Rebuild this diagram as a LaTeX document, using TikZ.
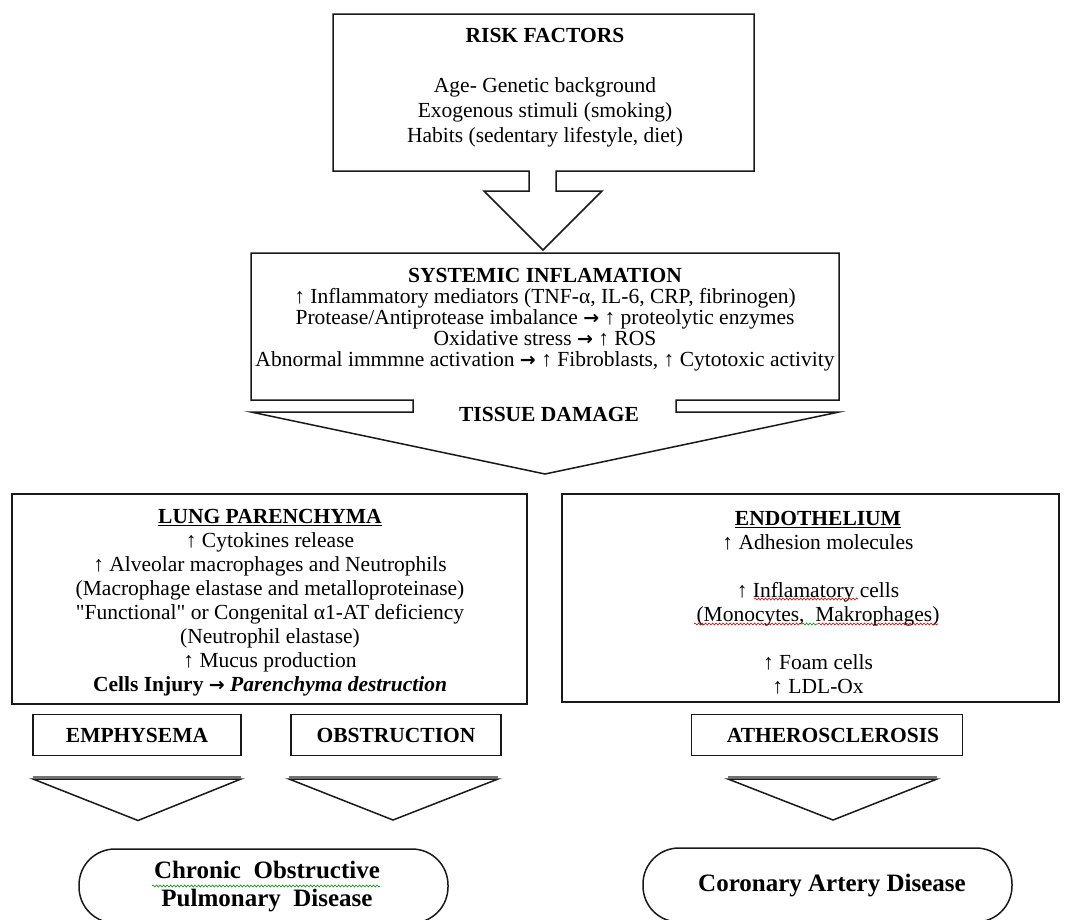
\documentclass[tikz,border=0pt]{standalone}
\usepackage{fontspec}
\setmainfont{Liberation Serif}
\newfontfamily\plainq{Liberation Serif}[Ligatures=TeXOff]
\newfontfamily\arrfont{DejaVu Sans}
\newcommand{\rarr}{{\arrfont\bfseries\fontsize{19}{19}\selectfont →}}
\usetikzlibrary{decorations.pathmorphing}
\begin{document}
\begin{tikzpicture}[x=1pt,y=-1pt,
  outl/.style={draw=black!90, line width=1.5pt, line join=miter},
  band/.style={draw=black!55, line width=2pt},
  body/.style={font=\fontsize{21.5}{24}\selectfont, align=center, inner sep=0pt, text=black},
  tbox/.style={outl, inner sep=0pt, font=\fontsize{21.5}{24}\selectfont\bfseries},
  term/.style={outl, rounded corners=36pt, inner sep=0pt, minimum width=369pt, minimum height=74pt,
               font=\fontsize{25}{28}\selectfont\bfseries, align=center},
  wavyred/.style={draw=red!80!black, line width=0.6pt, decorate, decoration={snake, amplitude=1pt, segment length=3.5pt}},
  wavygreen/.style={draw=green!55!black, line width=0.6pt, decorate, decoration={snake, amplitude=1pt, segment length=3.5pt}}]
\useasboundingbox (0,0) rectangle (1066,919);
\clip (0,0) rectangle (1066,919);

% ---------- RISK FACTORS callout ----------
\draw[outl] (333,171) -- (333,14) -- (754,14) -- (754,171) -- (556,171) -- (556,191)
  -- (602,191) -- (543,250) -- (484,191) -- (529,191) -- (529,171) -- cycle;
\node[body, font=\fontsize{21.5}{25}\selectfont] (risk) at (545,88)
  {\textbf{RISK FACTORS}\\[25pt]Age- Genetic background\\Exogenous stimuli (smoking)\\Habits (sedentary lifestyle, diet)};

% ---------- SYSTEMIC INFLAMATION callout ----------
\draw[outl] (251,400) -- (251,253) -- (839,253) -- (839,400) -- (676,400) -- (676,412)
  -- (839,412) -- (545,474) -- (251,412) -- (413,412) -- (413,400) -- cycle;
\node[body, font=\fontsize{21.5}{21}\selectfont] (sys) at (545,320)
  {\textbf{SYSTEMIC INFLAMATION}\\
   ↑ Inflammatory mediators (TNF-α, IL-6, CRP, fibrinogen)\\
   Protease/Antiprotease imbalance \rarr{} ↑ proteolytic enzymes\\
   Oxidative stress \rarr{} ↑ ROS\\
   Abnormal immmne activation \rarr{} ↑ Fibroblasts, ↑ Cytotoxic activity};
\node[body, font=\fontsize{21.5}{24}\selectfont\bfseries] (tissue) at (549,414) {TISSUE DAMAGE};

% ---------- LUNG PARENCHYMA ----------
\node[outl, minimum width=515pt, minimum height=210pt, inner sep=0pt] (lung) at (269.5,599) {};
\node[body] (lungtxt) at (270,603)
  {\underline{\textbf{LUNG PARENCHYMA}}\\
   ↑ Cytokines release\\
   ↑ Alveolar macrophages and Neutrophils\\
   (Macrophage elastase and metalloproteinase)\\
   {\plainq "Functional"} or Congenital α1-AT deficiency\\
   (Neutrophil elastase)\\
   ↑ Mucus production\\
   \textbf{Cells Injury \rarr{} \textit{Parenchyma destruction}}};

% ---------- ENDOTHELIUM ----------
\node[outl, minimum width=497pt, minimum height=208pt, inner sep=0pt] (endo) at (810.5,598) {};
\node[body] (endotxt) at (818,603)
  {\underline{\textbf{ENDOTHELIUM}}\\
   ↑ Adhesion molecules\\[24pt]
   ↑ Inflamatory cells\\
   (Monocytes,\ \ Makrophages)\\[24pt]
   ↑ Foam cells\\
   ↑ LDL-Ox};
\draw[wavyred] (754,599) -- (858,599);
\draw[wavyred] (694,624) -- (802,624);
\draw[wavygreen] (802,624) -- (818,624);
\draw[wavyred] (818,624) -- (938,624);

% ---------- small boxes ----------
\node[tbox, minimum width=208pt, minimum height=41pt] (emph) at (137,735) {EMPHYSEMA};
\node[tbox, minimum width=210pt, minimum height=41pt] (obst) at (396,735) {OBSTRUCTION};
\node[tbox, minimum width=271pt, minimum height=41pt] (ather) at (827,735) {\hspace*{12pt}ATHEROSCLEROSIS};

% ---------- lower arrow heads ----------
\draw[band] (33,776.5) -- (241,776.5);
\draw[outl] (33,779) -- (241,779) -- (138,820.5) -- cycle;
\draw[band] (289,776.5) -- (498,776.5);
\draw[outl] (289,779) -- (498,779) -- (393,820) -- cycle;
\draw[band] (728,776.5) -- (937,776.5);
\draw[outl] (728,779) -- (937,779) -- (833,820) -- cycle;

% ---------- terminals ----------
\node[term] (copd) at (263.5,886) {};
\node[body, font=\fontsize{25}{28}\selectfont\bfseries] (copdtxt) at (267,887)
  {Chronic\ \ Obstructive\\Pulmonary\ \ Disease};
\draw[wavygreen] (152,886) -- (380,886);
\node[term] (cad) at (827.5,885) {};
\node[body, font=\fontsize{25}{28}\selectfont\bfseries] (cadtxt) at (832,886) {Coronary Artery Disease};
\end{tikzpicture}
\end{document}
